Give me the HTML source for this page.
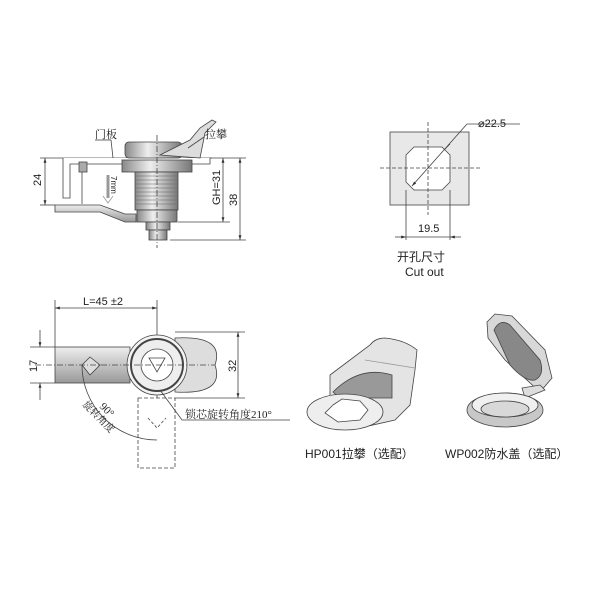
<!DOCTYPE html>
<html><head><meta charset="utf-8"><style>
html,body{margin:0;padding:0;background:#fff;}
svg{display:block;}
text{font-family:"Liberation Sans","Noto Sans CJK SC",sans-serif;fill:#222;}
.s{font-family:"Liberation Serif","Noto Serif CJK SC",serif;}
</style></head><body>
<svg width="600" height="600" viewBox="0 0 600 600" xmlns="http://www.w3.org/2000/svg">
<defs>
<linearGradient id="g1" x1="0" x2="1"><stop offset="0" stop-color="#888"/><stop offset=".4" stop-color="#eee"/><stop offset="1" stop-color="#777"/></linearGradient>
<linearGradient id="g2" x1="0" x2="0" y1="0" y2="1"><stop offset="0" stop-color="#eee"/><stop offset="1" stop-color="#999"/></linearGradient>
<marker id="a" viewBox="0 0 10 10" refX="10" refY="5" markerWidth="6" markerHeight="6" orient="auto-start-reverse"><path d="M0,2L10,5L0,8z" fill="#333"/></marker>
</defs>
<g stroke="#444" stroke-width="0.8" fill="none">
<line x1="40" y1="158" x2="212" y2="158"/>
<path d="M63,158 V198 H70 V164 H210 V158" fill="#fff"/>
<rect x="79" y="162" width="8" height="10" fill="#aaa"/>
<path d="M82,172 V204" />
<path d="M55,205 H100 L125,214 H136 V222 H125 L100,212 H55 Z" fill="url(#g2)"/>
<rect x="125" y="142" width="57" height="16" rx="4" fill="url(#g1)"/>
<rect x="122" y="160" width="70" height="12" fill="url(#g1)"/>
<rect x="135" y="172" width="43" height="38" fill="url(#g1)"/>
<g stroke="#666" stroke-width="0.5">
<line x1="135" y1="176" x2="178" y2="176"/><line x1="135" y1="180" x2="178" y2="180"/><line x1="135" y1="184" x2="178" y2="184"/><line x1="135" y1="188" x2="178" y2="188"/><line x1="135" y1="192" x2="178" y2="192"/><line x1="135" y1="196" x2="178" y2="196"/><line x1="135" y1="200" x2="178" y2="200"/><line x1="135" y1="204" x2="178" y2="204"/></g>
<rect x="137" y="210" width="40" height="12" fill="url(#g1)"/>
<rect x="146" y="222" width="24" height="8" fill="url(#g1)"/>
<rect x="149" y="230" width="18" height="10" fill="url(#g1)"/>
<path d="M160,155 L190,140 L200,128 L212,120 L216,122 L205,133 L200,158 Z" fill="#ddd"/>
<line x1="157" y1="135" x2="157" y2="248" stroke-dasharray="6,2,1,2"/>
<path d="M108,175 V198" stroke="#999" stroke-width="3"/>
<path d="M103,196 L108,203 L113,196" stroke="#999"/>
<line x1="40" y1="205" x2="55" y2="205"/>
<line x1="45" y1="158" x2="45" y2="205" marker-start="url(#a)" marker-end="url(#a)"/>
<line x1="178" y1="222" x2="230" y2="222"/>
<line x1="170" y1="240" x2="246" y2="240"/>
<line x1="223" y1="158" x2="223" y2="222" marker-start="url(#a)" marker-end="url(#a)"/>
<line x1="240" y1="158" x2="240" y2="240" marker-start="url(#a)" marker-end="url(#a)"/>
<line x1="210" y1="158" x2="246" y2="158"/>
<line x1="95" y1="140" x2="111" y2="140"/><line x1="111" y1="140" x2="113" y2="158"/>
<line x1="204" y1="137" x2="188" y2="148"/>
<rect x="390" y="132" width="79" height="73" fill="#e8e8e8"/>
<path d="M414,147 H442 L450,155 V182 L442,190 H414 L406,182 V155 Z" fill="#fff"/>
<line x1="428" y1="122" x2="428" y2="215" stroke-dasharray="4,2"/>
<line x1="380" y1="168" x2="480" y2="168" stroke-dasharray="4,2"/>
<line x1="412" y1="186" x2="467" y2="124" marker-start="url(#a)"/>
<line x1="444" y1="150" x2="450" y2="144"/>
<line x1="467" y1="124" x2="520" y2="124"/>
<line x1="406" y1="190" x2="406" y2="240"/><line x1="450" y1="190" x2="450" y2="240"/>
<line x1="395" y1="237" x2="406" y2="237" marker-end="url(#a)"/>
<line x1="461" y1="237" x2="450" y2="237" marker-end="url(#a)"/>
<line x1="406" y1="237" x2="450" y2="237"/>
<line x1="55" y1="300" x2="55" y2="347"/>
<line x1="157" y1="300" x2="157" y2="398"/>
<line x1="55" y1="308" x2="157" y2="308" marker-start="url(#a)" marker-end="url(#a)"/>
<rect x="55" y="347" width="75" height="36" fill="url(#g2)"/>
<path d="M90,357 L100,365 L90,375 L82,365Z" fill="#ddd"/>
<path d="M175,338 Q225,335 215,365 Q225,395 175,392Z" fill="#ddd"/>
<circle cx="157" cy="365" r="30" fill="#f4f4f4"/>
<circle cx="157" cy="365" r="26" fill="#eee" stroke-width="2"/>
<circle cx="157" cy="365" r="16" fill="#fff"/>
<path d="M149,358 H165 L157,372Z"/>
<line x1="35" y1="365" x2="215" y2="365" stroke-dasharray="6,2,1,2"/>
<line x1="30" y1="347" x2="55" y2="347"/><line x1="30" y1="383" x2="55" y2="383"/>
<line x1="40" y1="330" x2="40" y2="347" marker-end="url(#a)"/>
<line x1="40" y1="400" x2="40" y2="383" marker-end="url(#a)"/>
<line x1="175" y1="332" x2="245" y2="332"/><line x1="175" y1="398" x2="245" y2="398"/>
<line x1="238" y1="332" x2="238" y2="398" marker-start="url(#a)" marker-end="url(#a)"/>
<rect x="138" y="398" width="37" height="70" stroke-dasharray="4,2"/>
<path d="M148,418 L157,428 L166,418" stroke-dasharray="3,2"/>
<path d="M82,365 A75,75 0 0 0 157,440" />
<polyline points="160,390 182,420 290,420"/>
<!-- HP001 -->
<path d="M330,375 L370,345 Q375,338 385,338 Q405,340 417,350 L415,370 L410,405 L395,420 L360,428 L330,400 Z" fill="#e4e4e4"/>
<path d="M365,360 L415,368" stroke="#999"/>
<path d="M333,392 Q360,365 392,375 L392,398 L340,398 Z" fill="#999"/>
<ellipse cx="345" cy="412" rx="38" ry="18" fill="#eeeeee"/>
<path d="M333,405 L342,399 L360,401 L368,410 L360,420 L338,422 L325,413Z" fill="#fff"/>
<!-- WP002 -->
<path d="M487,322 L495,314 L512,316 L545,350 L552,378 L540,392 L505,360 L488,338 Z" fill="#d8d8d8"/>
<path d="M494,330 Q500,318 510,325 L540,360 Q545,375 535,380 Q525,382 510,365 Z" fill="#888"/>
<path d="M522,388 L540,385 L545,390 L525,398Z" fill="#ddd"/>
<ellipse cx="505" cy="410" rx="38" ry="17" fill="#c8c8c8"/>
<ellipse cx="505" cy="405" rx="33" ry="12" fill="#f0f0f0"/>
<ellipse cx="505" cy="409" rx="24" ry="8" fill="#d8d8d8"/>
</g>
<text x="95" y="138" font-size="11" class="s">门板</text>
<text x="205" y="138" font-size="11" class="s">拉攀</text>
<text x="0" y="0" font-size="11" transform="translate(41,186) rotate(-90)">24</text>
<text x="0" y="0" font-size="8" transform="translate(111,176) rotate(90)">7mm</text>
<text x="0" y="0" font-size="11" transform="translate(220,205) rotate(-90)">GH=31</text>
<text x="0" y="0" font-size="11" transform="translate(237,206) rotate(-90)">38</text>
<text x="478" y="127" font-size="11">⌀22.5</text>
<text x="418" y="232" font-size="11">19.5</text>
<text x="397" y="261" font-size="12">开孔尺寸</text>
<text x="405" y="276" font-size="12">Cut out</text>
<text x="83" y="305" font-size="11">L=45 ±2</text>
<text x="0" y="0" font-size="11" transform="translate(37,372) rotate(-90)">17</text>
<text x="0" y="0" font-size="11" transform="translate(236,372) rotate(-90)">32</text>
<text x="0" y="0" font-size="11" class="s" transform="translate(99,407) rotate(45)">90°</text>
<text x="0" y="0" font-size="10" class="s" transform="translate(82,405) rotate(45)">旋转角度</text>
<text x="185" y="418" font-size="11" class="s">锁芯旋转角度210°</text>
<text x="305" y="458" font-size="12">HP001拉攀（选配）</text>
<text x="445" y="458" font-size="12">WP002防水盖（选配）</text>
</svg>
</body></html>
